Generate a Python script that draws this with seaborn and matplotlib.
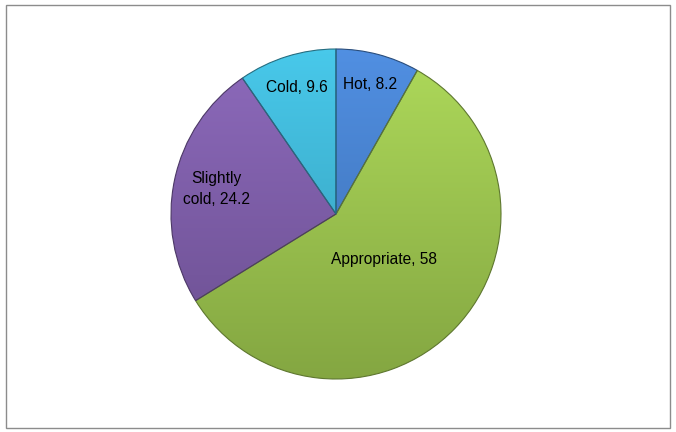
import numpy as np
import matplotlib
matplotlib.use("Agg")
import matplotlib.pyplot as plt
import matplotlib.colors as mcolors
from matplotlib.patches import Rectangle
import seaborn as sns

sns.set_theme(style="white")
plt.rcParams["font.family"] = ["Liberation Sans", "DejaVu Sans"]

# data (clockwise from 12 o'clock)
categories = ["Hot", "Appropriate", "Slightly\ncold", "Cold"]
values = [8.2, 58, 24.2, 9.6]
colors = ["#4580CE", "#9DC64E", "#7E5DAA", "#3DB6D6"]
label_radius = [0.81, 0.40, 0.74, 0.80]

fig = plt.figure(figsize=(6.76, 4.32), dpi=100)
fig.patches.append(Rectangle((6 / 676, 4 / 432), 664 / 676, 423 / 432,
                             transform=fig.transFigure, fill=False,
                             edgecolor="#8c8c8c", linewidth=1.0))

r_px = 165
cx, cy = 336, 214
ax = fig.add_axes([(cx - r_px) / 676, (432 - cy - r_px) / 432,
                   2 * r_px / 676, 2 * r_px / 432])

wedges, _ = ax.pie(values, colors=colors, startangle=90, counterclock=False,
                   radius=1.0, wedgeprops=dict(linewidth=0.8))

# vertical gradient (lighter on top, darker below) clipped to each wedge
grad = np.linspace(0, 1, 256).reshape(-1, 1)
for w, c in zip(wedges, colors):
    base = np.array(mcolors.to_rgb(c))
    light = np.clip(base * 1.06 + 0.03, 0, 1)
    dark = base * 0.84
    cmap = mcolors.LinearSegmentedColormap.from_list("g", [dark, light])
    im = ax.imshow(grad, cmap=cmap, extent=(-1, 1, -1, 1), origin="lower",
                   aspect="auto", zorder=w.get_zorder() + 0.1)
    im.set_clip_path(w)
    w.set_edgecolor(tuple(base * 0.6))
    w.set_zorder(w.get_zorder() + 0.2)
    w.set_facecolor("none")

# data labels inside the slices
for w, cat, val, rr in zip(wedges, categories, values, label_radius):
    ang = np.deg2rad((w.theta1 + w.theta2) / 2)
    ax.text(rr * np.cos(ang), rr * np.sin(ang), f"{cat}, {val:g}",
            ha="center", va="center", fontsize=11.2, color="black", zorder=10,
            linespacing=1.55)

ax.set_xlim(-1, 1)
ax.set_ylim(-1, 1)
ax.set_aspect("equal")
ax.axis("off")

fig.savefig("out.png", dpi=100)
